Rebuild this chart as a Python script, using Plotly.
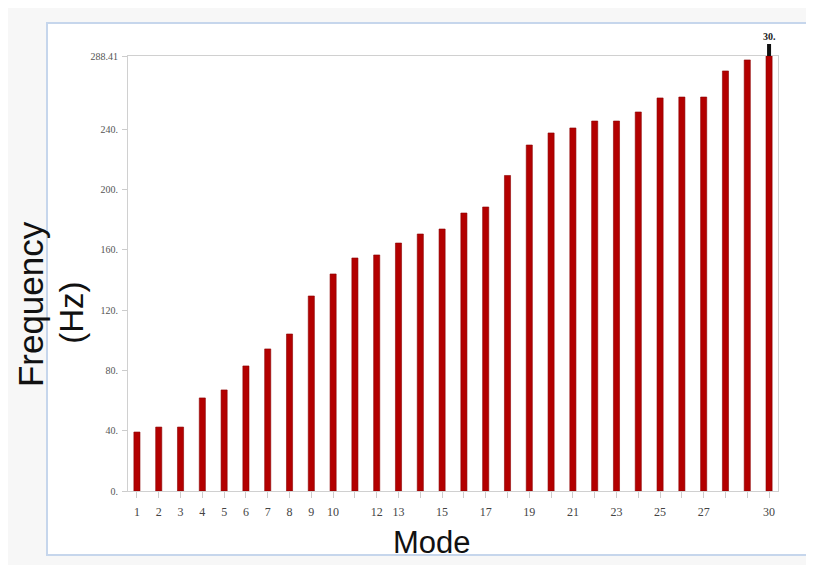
import plotly.graph_objects as go

modes = list(range(1, 31))
frequency = [39.1, 42.4, 42.4, 61.7, 67.0, 82.9, 94.2, 104.1, 129.3, 143.9,
             154.5, 156.5, 164.4, 170.4, 173.7, 184.3, 188.3, 209.2, 229.4, 237.4,
             240.7, 245.3, 245.3, 251.3, 260.6, 261.2, 261.2, 278.5, 285.8, 288.41]
y_tickvals = [0, 40, 80, 120, 160, 200, 240, 288.41]
y_ticktext = ["0.", "40.", "80.", "120.", "160.", "200.", "240.", "288.41"]
x_labeled = [1, 2, 3, 4, 5, 6, 7, 8, 9, 10, 12, 13, 15, 17, 19, 21, 23, 25, 27, 30]
x_ticktext = [str(m) if m in x_labeled else "" for m in modes]

fig = go.Figure()
fig.add_trace(go.Bar(
    x=modes, y=frequency, width=0.28,
    marker=dict(color="#b30000", line=dict(color="#8c0000", width=0.6)),
    showlegend=False,
))

fig.update_layout(
    width=806, height=557,
    margin=dict(l=120, r=36, t=48, b=74),
    paper_bgcolor="#f7f7f7",
    plot_bgcolor="white",
    font=dict(family="Liberation Sans, Arial, sans-serif", color="#444"),
    xaxis=dict(
        range=[0.59, 30.41], tickmode="array", tickvals=modes, ticktext=x_ticktext,
        ticks="outside", ticklen=6, tickcolor="#cccccc", ticklabelstandoff=4,
        tickfont=dict(size=12, color="#444", family="Liberation Serif, serif"),
        showline=True, linecolor="#d0d0d0", linewidth=1, mirror=True,
        showgrid=False, zeroline=False,
    ),
    yaxis=dict(
        range=[0, 288.41], tickmode="array", tickvals=y_tickvals, ticktext=y_ticktext,
        ticks="outside", ticklen=5, tickcolor="#cccccc", ticklabelstandoff=2,
        tickfont=dict(size=10, color="#555", family="Liberation Serif, serif"),
        showline=True, linecolor="#d0d0d0", linewidth=1, mirror=True,
        showgrid=False, zeroline=False,
    ),
    shapes=[dict(
        type="rect", xref="paper", yref="paper",
        x0=-0.1246, x1=1.0523, y0=-0.1471, y1=1.0759,
        fillcolor="white", line=dict(color="#c6d6ec", width=2), layer="below",
    )],
    annotations=[
        dict(text="Frequency", x=-0.149, y=0.43, xref="paper", yref="paper",
             textangle=-90, showarrow=False, xanchor="center", yanchor="middle",
             font=dict(size=35, color="#111", family="Liberation Sans, Arial, sans-serif")),
        dict(text="(Hz)", x=-0.086, y=0.41, xref="paper", yref="paper",
             textangle=-90, showarrow=False, xanchor="center", yanchor="middle",
             font=dict(size=33, color="#111", family="Liberation Sans, Arial, sans-serif")),
        dict(text="Mode", x=0.468, y=-0.118, xref="paper", yref="paper",
             showarrow=False, xanchor="center", yanchor="middle",
             font=dict(size=31, color="#111", family="Liberation Sans, Arial, sans-serif")),
        dict(text="<b>30.</b>", x=30, y=288.41, xref="x", yref="y",
             showarrow=True, ax=0, ay=-12, arrowhead=0, arrowwidth=4,
             arrowcolor="#111", standoff=0, yanchor="bottom",
             font=dict(size=10, color="#222", family="Liberation Serif, serif")),
    ],
)

fig.write_html("out.html")
